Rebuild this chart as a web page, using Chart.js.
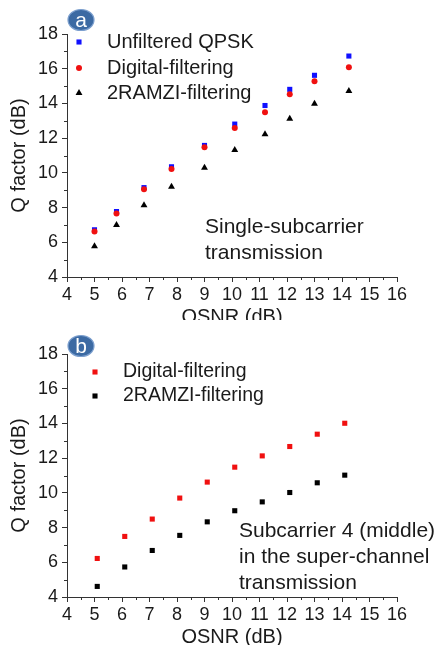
<!DOCTYPE html>
<html>
<head>
<meta charset="utf-8">
<script src="https://cdn.jsdelivr.net/npm/chart.js@4.4.1/dist/chart.umd.min.js"></script>
<style>
  html, body { margin: 0; padding: 0; background: #fff; }
  .panel { position: absolute; left: 0; width: 440px; overflow: hidden; }
  #panelA { top: 0; height: 320px; }
  #panelB { top: 320px; height: 325px; }
  canvas { display: block; }
</style>
</head>
<body>
<div class="panel" id="panelA"><canvas id="chartA" width="440" height="335"></canvas></div>
<div class="panel" id="panelB"><canvas id="chartB" width="440" height="335"></canvas></div>
<script>
// panel (a): single-subcarrier
const osnrA = [5.0, 5.8, 6.8, 7.8, 9.0, 10.1, 11.2, 12.1, 13.0, 14.25];
const unfilteredA = [6.72, 7.77, 9.15, 10.35, 11.58, 12.81, 13.88, 14.81, 15.62, 16.73];
const digitalA = [6.62, 7.66, 9.05, 10.22, 11.47, 12.58, 13.49, 14.53, 15.28, 16.08];
const ramziA = [5.77, 7.0, 8.13, 9.2, 10.29, 11.32, 12.23, 13.12, 13.98, 14.71];

// panel (b): subcarrier 4 in super-channel
const osnrB = [5.1, 6.1, 7.1, 8.1, 9.1, 10.1, 11.1, 12.1, 13.1, 14.1];
const digitalB = [6.22, 7.49, 8.49, 9.7, 10.62, 11.48, 12.13, 12.67, 13.38, 14.01];
const ramziB = [4.61, 5.73, 6.68, 7.55, 8.33, 8.97, 9.48, 10.02, 10.58, 11.02];

const xTicks = [4, 16, 1];
const yTicks = [4, 18, 2];

const FONT = '"Liberation Sans", Arial, sans-serif';
const AXIS = '#333';
const TEXT = '#1a1a1a';

function pts(xs, ys) {
    return xs.map((x, i) => ({ x: x, y: ys[i] }));
}

// minor ticks, legend, annotation text and the round badge
const extras = {
    id: 'extras',
    afterDraw(chart, args, opts) {
        const ctx = chart.ctx;
        const xs = chart.scales.x, ys = chart.scales.y;
        const area = chart.chartArea;
        ctx.save();
        ctx.strokeStyle = AXIS;
        ctx.lineWidth = 1;
        ctx.beginPath();
        for (let v = xTicks[0] + 0.5; v < xTicks[1]; v += 1) {
            const px = Math.round(xs.getPixelForValue(v)) + 0.5;
            ctx.moveTo(px, area.bottom);
            ctx.lineTo(px, area.bottom + 3);
        }
        for (let v = yTicks[0] + 1; v < yTicks[1]; v += 2) {
            const py = Math.round(ys.getPixelForValue(v)) + 0.5;
            ctx.moveTo(area.left, py);
            ctx.lineTo(area.left - 3, py);
        }
        ctx.stroke();

        // legend
        ctx.textBaseline = 'middle';
        ctx.textAlign = 'left';
        opts.legend.forEach((row, i) => {
            const ds = chart.data.datasets[row.index];
            ctx.fillStyle = ds.pointBackgroundColor;
            ctx.strokeStyle = ds.pointBackgroundColor;
            Chart.helpers.drawPoint(ctx, {
                pointStyle: ds.pointStyle,
                radius: ds.pointRadius,
                borderWidth: 0
            }, opts.legendX, row.y);
            ctx.fillStyle = TEXT;
            ctx.font = opts.legendSize + 'px ' + FONT;
            ctx.fillText(ds.label, opts.legendTextX, row.y);
        });

        // annotation
        ctx.font = '21px ' + FONT;
        opts.note.forEach((line, i) => {
            ctx.fillText(line, opts.noteX, opts.noteY + i * 26);
        });

        // badge
        ctx.beginPath();
        ctx.ellipse(81, opts.badgeY, 13, 10.5, 0, 0, Math.PI * 2);
        ctx.fillStyle = '#3c6aa3';
        ctx.fill();
        ctx.strokeStyle = '#7da0cf';
        ctx.lineWidth = 1.2;
        ctx.stroke();
        ctx.fillStyle = '#fff';
        ctx.textAlign = 'center';
        ctx.font = '21px ' + FONT;
        ctx.fillText(opts.badge, 81, opts.badgeY + 1);
        ctx.restore();
    }
};

function axisScale(range, title, isX) {
    return {
        type: 'linear',
        min: range[0],
        max: range[1],
        afterFit: s => { if (isX) s.height = 58; else s.width = 67; },
        ticks: {
            stepSize: range[2],
            color: TEXT,
            padding: isX ? 2 : 4,
            font: { family: FONT, size: 18 },
            maxRotation: 0,
            autoSkip: false
        },
        grid: {
            drawOnChartArea: false,
            drawTicks: true,
            tickLength: 5,
            color: AXIS
        },
        border: { display: true, color: AXIS, width: 1 },
        title: {
            display: true,
            text: title,
            color: TEXT,
            font: { family: FONT, size: 20, lineHeight: 1 },
            padding: isX ? { top: 0, bottom: 8 } : { top: 9, bottom: 0 }
        }
    };
}

function makeChart(id, datasets, extraOpts) {
    return new Chart(document.getElementById(id), {
        type: 'scatter',
        data: { datasets: datasets },
        options: {
            responsive: false,
            animation: false,
            layout: { padding: { left: 0, top: 34, right: 43, bottom: 0 } },
            plugins: {
                legend: { display: false },
                tooltip: { enabled: false },
                extras: extraOpts
            },
            scales: {
                x: axisScale(xTicks, 'OSNR (dB)', true),
                y: axisScale(yTicks, 'Q factor (dB)', false)
            }
        },
        plugins: [extras]
    });
}

makeChart('chartA', [
    {
        label: 'Unfiltered QPSK', data: pts(osnrA, unfilteredA), order: 1,
        pointStyle: 'rect', pointRadius: 3.6, pointBorderWidth: 0,
        pointBackgroundColor: '#1010ff', pointBorderColor: '#1010ff'
    },
    {
        label: 'Digital-filtering', data: pts(osnrA, digitalA),
        pointStyle: 'circle', pointRadius: 3, pointBorderWidth: 0,
        pointBackgroundColor: '#f01010', pointBorderColor: '#f01010'
    },
    {
        label: '2RAMZI-filtering', data: pts(osnrA, ramziA),
        pointStyle: 'triangle', pointRadius: 4, pointBorderWidth: 0,
        pointBackgroundColor: '#000', pointBorderColor: '#000'
    }
], {
    legend: [{ index: 0, y: 42 }, { index: 1, y: 68 }, { index: 2, y: 93 }],
    legendX: 79, legendTextX: 107, legendSize: 20,
    note: ['Single-subcarrier', 'transmission'], noteX: 205, noteY: 227,
    badge: 'a', badgeY: 20
});

makeChart('chartB', [
    {
        label: 'Digital-filtering', data: pts(osnrB, digitalB),
        pointStyle: 'rect', pointRadius: 3.6, pointBorderWidth: 0,
        pointBackgroundColor: '#f01010', pointBorderColor: '#f01010'
    },
    {
        label: '2RAMZI-filtering', data: pts(osnrB, ramziB),
        pointStyle: 'rect', pointRadius: 3.6, pointBorderWidth: 0,
        pointBackgroundColor: '#000', pointBorderColor: '#000'
    }
], {
    legend: [{ index: 0, y: 52 }, { index: 1, y: 76 }],
    legendX: 95, legendTextX: 123, legendSize: 19.5,
    note: ['Subcarrier 4 (middle)', 'in the super-channel', 'transmission'], noteX: 239, noteY: 211,
    badge: 'b', badgeY: 26
});
</script>
</body>
</html>
